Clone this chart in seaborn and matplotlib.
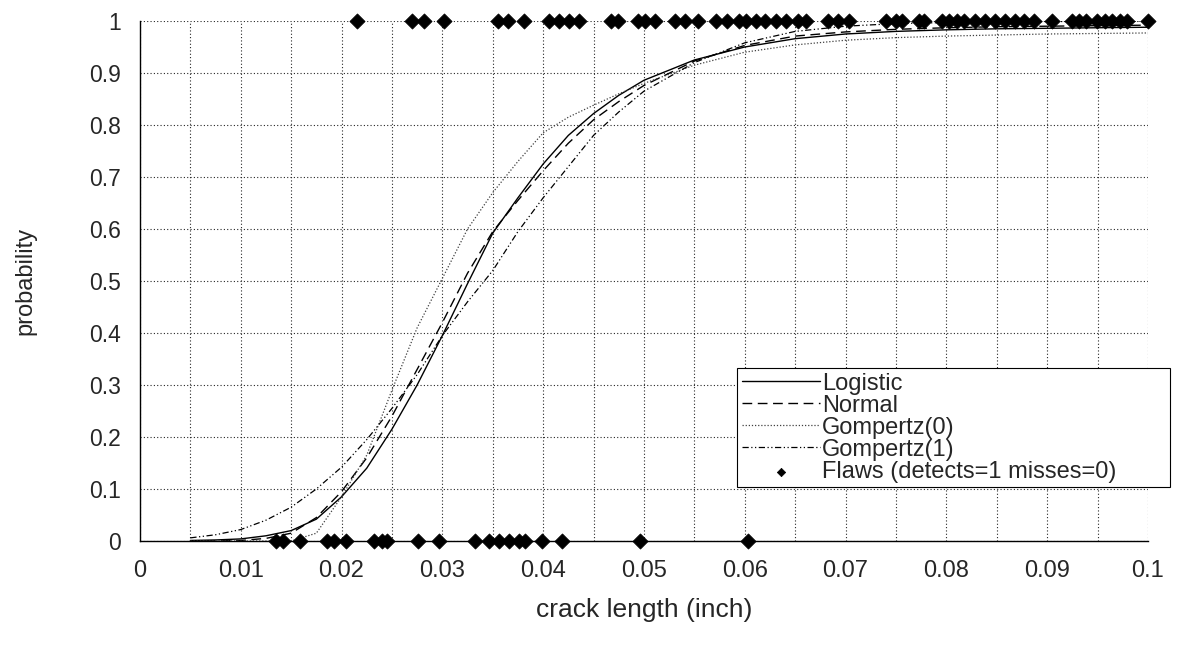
import numpy as np
import pandas as pd
import matplotlib
matplotlib.use('Agg')
import matplotlib.pyplot as plt
import seaborn as sns

sns.set_style('white')
plt.rcParams['font.family'] = ['Liberation Sans', 'DejaVu Sans']

# fitted POD curves
crack = [0.005, 0.0075, 0.01, 0.0125, 0.015, 0.0175, 0.02, 0.0225, 0.025, 0.0275,
         0.03, 0.0325, 0.035, 0.0375, 0.04, 0.0425, 0.045, 0.0475, 0.05, 0.055,
         0.06, 0.065, 0.07, 0.075, 0.08, 0.085, 0.09, 0.095, 0.1]
logistic = [0.001, 0.002, 0.004, 0.010, 0.020, 0.042, 0.085, 0.140, 0.215, 0.300,
            0.395, 0.495, 0.592, 0.660, 0.725, 0.780, 0.822, 0.857, 0.886, 0.925,
            0.950, 0.966, 0.975, 0.980, 0.983, 0.985, 0.986, 0.987, 0.988]
normal = [0.000, 0.000, 0.001, 0.005, 0.015, 0.045, 0.095, 0.160, 0.240, 0.330,
          0.420, 0.515, 0.595, 0.655, 0.712, 0.765, 0.810, 0.845, 0.876, 0.923,
          0.953, 0.971, 0.979, 0.984, 0.987, 0.989, 0.990, 0.991, 0.992]
gompertz0 = [0.000, 0.000, 0.000, 0.000, 0.000, 0.015, 0.085, 0.165, 0.290, 0.410,
             0.505, 0.600, 0.670, 0.730, 0.785, 0.815, 0.838, 0.860, 0.880, 0.915,
             0.940, 0.954, 0.963, 0.968, 0.971, 0.973, 0.975, 0.976, 0.977]
gompertz1 = [0.006, 0.012, 0.022, 0.040, 0.065, 0.100, 0.142, 0.195, 0.255, 0.320,
             0.395, 0.460, 0.520, 0.595, 0.660, 0.720, 0.780, 0.825, 0.865, 0.920,
             0.958, 0.980, 0.990, 0.995, 0.997, 0.998, 0.999, 0.999, 1.000]

# flaws: detects (1) and misses (0)
detect_x = [0.0215, 0.0270, 0.0282, 0.0302, 0.0355, 0.0365, 0.0381, 0.0406, 0.0416,
            0.0426, 0.0436, 0.0467, 0.0474, 0.0494, 0.0501, 0.0511, 0.0531, 0.0541,
            0.0554, 0.0571, 0.0582, 0.0594, 0.0601, 0.0611, 0.0620, 0.0631, 0.0641,
            0.0653, 0.0661, 0.0683, 0.0693, 0.0703, 0.0740, 0.0750, 0.0756, 0.0773,
            0.0778, 0.0796, 0.0803, 0.0811, 0.0818, 0.0828, 0.0838, 0.0848, 0.0858,
            0.0868, 0.0877, 0.0887, 0.0905, 0.0925, 0.0932, 0.0939, 0.0949, 0.0957,
            0.0964, 0.0972, 0.0979, 0.1000]
miss_x = [0.0135, 0.0142, 0.0159, 0.0186, 0.0193, 0.0204, 0.0232, 0.0240, 0.0245,
          0.0276, 0.0297, 0.0332, 0.0346, 0.0356, 0.0366, 0.0376, 0.0382, 0.0399,
          0.0419, 0.0496, 0.0603]

x_ticks = [0, 0.01, 0.02, 0.03, 0.04, 0.05, 0.06, 0.07, 0.08, 0.09, 0.1]
y_ticks = [0, 0.1, 0.2, 0.3, 0.4, 0.5, 0.6, 0.7, 0.8, 0.9, 1]

curves = pd.DataFrame({'crack': crack, 'Logistic': logistic, 'Normal': normal,
                       'Gompertz(0)': gompertz0, 'Gompertz(1)': gompertz1})
flaws = pd.DataFrame({'crack': detect_x + miss_x,
                      'hit': [1] * len(detect_x) + [0] * len(miss_x)})

styles = {'Logistic': dict(ls='-', lw=1.0, color='black'),
          'Normal': dict(ls=(0, (7, 4)), lw=1.0, color='black'),
          'Gompertz(0)': dict(ls=(0, (1, 1.5)), lw=0.9, color='0.25'),
          'Gompertz(1)': dict(ls=(0, (5, 2, 1, 2, 1, 2)), lw=0.9, color='black')}

fig = plt.figure(figsize=(11.81, 6.5), dpi=100)
ax = fig.add_axes([0.1185, 0.1677, 0.8535, 0.80])

for name, st in styles.items():
    sns.lineplot(data=curves, x='crack', y=name, ax=ax, label=name,
                 linestyle=st['ls'], linewidth=st['lw'], color=st['color'])

sns.scatterplot(data=flaws, x='crack', y='hit', ax=ax, marker='D', s=60,
                color='black', edgecolor='black', linewidth=0.5,
                label='Flaws (detects=1 misses=0)', clip_on=False, zorder=5)

ax.set_xlim(0, 0.1)
ax.set_ylim(0, 1)
ax.set_xticks(x_ticks)
ax.set_xticks(np.arange(0.005, 0.1, 0.01), minor=True)
ax.set_yticks(y_ticks)
ax.set_xticklabels([f'{v:g}' for v in x_ticks], fontsize=17)
ax.set_yticklabels([f'{v:g}' for v in y_ticks], fontsize=16.5)
ax.grid(which='both', axis='x', color='0.15', linestyle=(0, (1, 2)), linewidth=0.8)
ax.grid(which='major', axis='y', color='0.15', linestyle=(0, (1, 2)), linewidth=0.8)
ax.tick_params(axis='both', which='major', direction='inout', length=9, width=0.8,
               color='black')
ax.tick_params(axis='y', pad=9)
ax.tick_params(axis='x', pad=9)
ax.tick_params(axis='x', which='minor', length=0)
for side in ['top', 'right']:
    ax.spines[side].set_visible(False)
for side in ['left', 'bottom']:
    ax.spines[side].set_color('black')
    ax.spines[side].set_linewidth(1.0)

ax.set_xlabel('crack length (inch)', fontsize=19, labelpad=12)
ax.set_ylabel('probability', fontsize=17, labelpad=38)

# legend box spans past the right edge of the plot area, as in the original
leg_x0, leg_y1, leg_x1 = 737 / 1181, 1 - 368 / 650, 1170 / 1181
leg = ax.legend(loc='upper left', bbox_to_anchor=(leg_x0, leg_y1 - 0.2, leg_x1 - leg_x0, 0.2),
                bbox_transform=fig.transFigure, mode='expand', fontsize=17,
                frameon=True, fancybox=False, edgecolor='black', framealpha=1,
                handlelength=3.3, handletextpad=0.1, labelspacing=0.0,
                borderpad=0.2, borderaxespad=0, markerscale=0.55)
leg.get_frame().set_linewidth(0.8)

fig.savefig('out.png', dpi=100)
